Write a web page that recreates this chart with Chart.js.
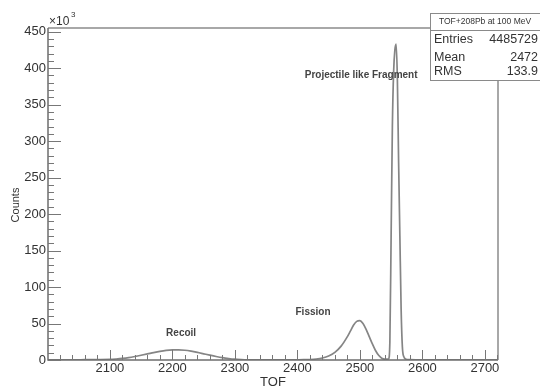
<!DOCTYPE html>
<html>
<head>
<meta charset="utf-8">
<script src="https://cdn.jsdelivr.net/npm/chart.js@4.4.1/dist/chart.umd.min.js"></script>
<style>
html, body { margin: 0; padding: 0; background: #fff; }
#wrap { position: relative; width: 540px; height: 389px; }
</style>
</head>
<body>
<div id="wrap"><canvas id="tofChart" width="540" height="389"></canvas></div>
<script>
"use strict";

// TOF bin centres and counts (x10^3)
var tofBins = [2001, 2020, 2040, 2060, 2080, 2100, 2110, 2120, 2130, 2140, 2150, 2160, 2170, 2180, 2190,
    2200, 2210, 2220, 2230, 2240, 2250, 2260, 2270, 2280, 2290, 2300, 2310, 2320, 2340, 2360, 2380,
    2400, 2410, 2420, 2430, 2440, 2450, 2460, 2470, 2480, 2485, 2490, 2495, 2500, 2505, 2510, 2515,
    2520, 2525, 2530, 2535, 2540, 2546, 2548, 2550, 2552, 2554, 2556, 2558, 2560, 2562, 2564, 2566,
    2568, 2570, 2574, 2580, 2600, 2650, 2700, 2721];
var counts = [0.2, 0.3, 0.3, 0.4, 0.5, 0.8, 1.4, 2.2, 3.3, 4.8, 6.5, 8.3, 10.2, 11.9, 13.2,
    13.9, 14.0, 13.4, 12.1, 10.4, 8.5, 6.6, 4.8, 3.2, 2.0, 1.1, 0.6, 0.3, 0.2, 0.2, 0.2,
    0.3, 0.4, 0.7, 1.4, 2.8, 5.5, 10.5, 19, 32, 40, 48, 53, 54, 50, 42, 32,
    22, 13, 6.5, 2.5, 1.2, 1.5, 25, 170, 320, 395, 425, 433, 385, 270, 170, 70,
    18, 5, 1, 0.5, 0.2, 0.1, 0.1, 0.1];

var xTickLabels = [2100, 2200, 2300, 2400, 2500, 2600, 2700];
var yTickLabels = [0, 50, 100, 150, 200, 250, 300, 350, 400, 450];

var statsTitle = 'TOF+208Pb at 100 MeV';
var statsNames = ['Entries', 'Mean', 'RMS'];
var statsValues = ['4485729', '2472', '133.9'];

var peakNames = ['Recoil', 'Fission', 'Projectile like Fragment'];
var peakLabelTof = [2214, 2425, 2502];
var peakLabelCounts = [36, 66, 390];

var fontFamily = '"Liberation Sans", Arial, sans-serif';
var textColor = '#333';

// ROOT style frame: inward ticks, stats box, peak labels
var rootFrame = {
    id: 'rootFrame',
    afterDraw: function (chart) {
        var ctx = chart.ctx;
        var area = chart.chartArea;
        var xs = chart.scales.x;
        var ys = chart.scales.y;
        ctx.save();

        // frame
        ctx.strokeStyle = '#a8a8a8';
        ctx.lineWidth = 2;
        ctx.beginPath();
        ctx.moveTo(area.left, area.top);
        ctx.lineTo(area.right, area.top);
        ctx.lineTo(area.right, area.bottom);
        ctx.stroke();
        ctx.strokeStyle = '#6e6e6e';
        ctx.lineWidth = 1.5;
        ctx.beginPath();
        ctx.moveTo(area.left, area.top);
        ctx.lineTo(area.left, area.bottom);
        ctx.lineTo(area.right, area.bottom);
        ctx.stroke();

        // x ticks
        ctx.lineWidth = 1;
        ctx.strokeStyle = '#777';
        ctx.beginPath();
        for (var v = 2020; v <= xs.max; v += 20) {
            var px = Math.round(xs.getPixelForValue(v)) + 0.5;
            var len = (v % 100 === 0) ? 10 : 5;
            ctx.moveTo(px, area.bottom);
            ctx.lineTo(px, area.bottom - len);
        }
        // y ticks
        for (var c = 0; c <= ys.max; c += 10) {
            var py = Math.round(ys.getPixelForValue(c)) + 0.5;
            var l = (c % 50 === 0) ? 13 : 6;
            ctx.moveTo(area.left, py);
            ctx.lineTo(area.left + l, py);
        }
        ctx.stroke();

        // exponent above y axis
        ctx.fillStyle = textColor;
        ctx.textBaseline = 'alphabetic';
        ctx.textAlign = 'left';
        ctx.font = '12px ' + fontFamily;
        ctx.fillText('\u00d710', area.left + 1, area.top - 3);
        ctx.font = '8px ' + fontFamily;
        ctx.fillText('3', area.left + 23, area.top - 11);

        // y axis title
        ctx.save();
        ctx.translate(16, 205);
        ctx.rotate(-Math.PI / 2);
        ctx.textAlign = 'center';
        ctx.textBaseline = 'middle';
        ctx.font = '11px ' + fontFamily;
        ctx.fillText('Counts', 0, 0);
        ctx.restore();

        // peak labels
        ctx.fillStyle = '#444';
        ctx.font = 'bold 10px ' + fontFamily;
        ctx.textAlign = 'center';
        ctx.textBaseline = 'middle';
        for (var i = 0; i < peakNames.length; i++) {
            ctx.fillText(peakNames[i], xs.getPixelForValue(peakLabelTof[i]), ys.getPixelForValue(peakLabelCounts[i]));
        }

        // stats box
        var bx = 430, by = 13, bw = 120, bh = 67;
        ctx.fillStyle = '#fff';
        ctx.fillRect(bx, by, bw, bh);
        ctx.strokeStyle = '#8a8a8a';
        ctx.lineWidth = 1;
        ctx.strokeRect(bx + 0.5, by + 0.5, bw, bh);
        ctx.beginPath();
        ctx.moveTo(bx, by + 17.5);
        ctx.lineTo(bx + bw, by + 17.5);
        ctx.stroke();
        ctx.fillStyle = textColor;
        ctx.font = '8.5px ' + fontFamily;
        ctx.textAlign = 'center';
        ctx.fillText(statsTitle, 485, by + 9);
        ctx.font = '12.5px ' + fontFamily;
        var rowY = [40, 57.5, 71.5];
        for (var r = 0; r < statsNames.length; r++) {
            ctx.textAlign = 'left';
            ctx.fillText(statsNames[r], 434, rowY[r]);
            ctx.textAlign = 'right';
            ctx.fillText(statsValues[r], 538, rowY[r]);
        }
        ctx.restore();
    }
};

var ctx = document.getElementById('tofChart');

var chart = new Chart(ctx, {
    type: 'line',
    data: {
        datasets: [{
            label: 'TOF',
            data: tofBins.map(function (t, i) { return { x: t, y: counts[i] }; }),
            borderColor: '#858585',
            borderWidth: 1.7,
            pointRadius: 0,
            fill: false,
            cubicInterpolationMode: 'monotone'
        }]
    },
    options: {
        responsive: false,
        animation: false,
        devicePixelRatio: 1,
        layout: { padding: { top: 28, right: 42, left: 0, bottom: 0 } },
        plugins: {
            legend: { display: false },
            tooltip: { enabled: false }
        },
        scales: {
            x: {
                type: 'linear',
                min: 2001,
                max: 2721,
                afterBuildTicks: function (scale) {
                    scale.ticks = xTickLabels.map(function (v) { return { value: v }; });
                },
                afterFit: function (scale) { scale.height = 29; },
                grid: { display: false, drawTicks: false },
                border: { display: false },
                ticks: {
                    padding: 1,
                    maxRotation: 0,
                    color: textColor,
                    font: { family: fontFamily, size: 13 },
                    callback: function (v) { return String(v); }
                },
                title: {
                    display: true,
                    text: 'TOF',
                    color: textColor,
                    padding: { top: 0, bottom: -1 },
                    font: { family: fontFamily, size: 13 }
                }
            },
            y: {
                min: 0,
                max: 455,
                afterBuildTicks: function (scale) {
                    scale.ticks = yTickLabels.map(function (v) { return { value: v }; });
                },
                afterFit: function (scale) { scale.width = 48; },
                grid: { display: false, drawTicks: false },
                border: { display: false },
                ticks: {
                    padding: 2,
                    color: textColor,
                    font: { family: fontFamily, size: 13 },
                    callback: function (v) { return String(v); }
                }
            }
        }
    },
    plugins: [rootFrame]
});
</script>
</body>
</html>
